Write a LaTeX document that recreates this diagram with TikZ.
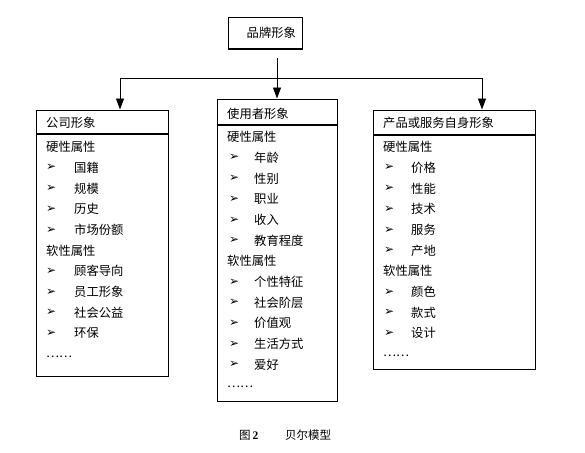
\documentclass[tikz,border=0pt]{standalone}
\usepackage{fontspec}
\setmainfont{Noto Sans CJK SC}
\newfontfamily\symf{DejaVu Sans}
\newfontfamily\serf{Liberation Serif}
\usetikzlibrary{arrows.meta}
\begin{document}
\begin{tikzpicture}[x=1pt,y=-1pt,
  box/.style={draw, line width=1pt, inner sep=0pt},
  txt/.style={anchor=west, inner sep=0pt, font=\fontsize{12.3}{13}\selectfont},
  bul/.style={anchor=west, inner sep=0pt, font=\symf\fontsize{12}{13}\selectfont},
  captxt/.style={anchor=west, inner sep=0pt, font=\fontsize{11.5}{12}\selectfont},
  conn/.style={line width=0.9pt},
  arr/.style={conn, -{Triangle[width=8pt,length=11pt]}},
  sepline/.style={line width=1.8pt}]
\useasboundingbox (0,0) rectangle (585,452);

% top box
\node[box, minimum width=74pt, minimum height=31pt] (brand) at (265,33.5) {};
\node[txt] (brandt) at (246.5,33) {品牌形象};

% three boxes
\node[box, minimum width=132pt, minimum height=266pt] (company) at (102,243) {};
\node[box, minimum width=120pt, minimum height=302pt] (user) at (277,250) {};
\node[box, minimum width=162pt, minimum height=259pt] (product) at (454,239.5) {};

% header separators
\draw[sepline] (company.west |- 0,134) -- (company.east |- 0,134);
\draw[sepline] (user.west |- 0,125) -- (user.east |- 0,125);
\draw[sepline] (product.west |- 0,135) -- (product.east |- 0,135);

% connectors
\coordinate (start) at (277,58);
\coordinate (hubL) at (120,78);
\coordinate (hubR) at (482,78);
\draw[conn] (hubL) -- (hubR);
\draw[arr] (start) -- (user.north);
\draw[arr] (hubL) -- (hubL |- company.north);
\draw[arr] (hubR) -- (hubR |- product.north);

% company box
\node[txt] (c-head) at (46,123) {公司形象};
\node[txt] (c-h0) at (46,147) {硬性属性};
\node[txt] (c-h5) at (46,147+20.7*5) {软性属性};
\foreach \t [count=\i from 1] in {国籍,规模,历史,市场份额}{
  \node[bul] (c-b\i) at (46,147+20.7*\i) {➢};
  \node[txt] (c-i\i) at (74,147+20.7*\i) {\t};}
\foreach \t [count=\i from 6] in {顾客导向,员工形象,社会公益,环保}{
  \node[bul] (c-b\i) at (46,147+20.7*\i) {➢};
  \node[txt] (c-i\i) at (74,147+20.7*\i) {\t};}
\node[txt] (c-dots) at (46,357) {……};

% user box
\node[txt] (u-head) at (227,114) {使用者形象};
\node[txt] (u-h0) at (227,137) {硬性属性};
\node[txt] (u-h6) at (227,137+20.7*6) {软性属性};
\foreach \t [count=\i from 1] in {年龄,性别,职业,收入,教育程度}{
  \node[bul] (u-b\i) at (229,137+20.7*\i) {➢};
  \node[txt] (u-i\i) at (254,137+20.7*\i) {\t};}
\foreach \t [count=\i from 7] in {个性特征,社会阶层,价值观,生活方式,爱好}{
  \node[bul] (u-b\i) at (229,137+20.7*\i) {➢};
  \node[txt] (u-i\i) at (254,137+20.7*\i) {\t};}
\node[txt] (u-dots) at (227,387) {……};

% product box
\node[txt] (p-head) at (383,123) {产品或服务自身形象};
\node[txt] (p-h0) at (383,147) {硬性属性};
\node[txt] (p-h6) at (383,147+20.7*6) {软性属性};
\foreach \t [count=\i from 1] in {价格,性能,技术,服务,产地}{
  \node[bul] (p-b\i) at (384,147+20.7*\i) {➢};
  \node[txt] (p-i\i) at (411,147+20.7*\i) {\t};}
\foreach \t [count=\i from 7] in {颜色,款式,设计}{
  \node[bul] (p-b\i) at (384,147+20.7*\i) {➢};
  \node[txt] (p-i\i) at (411,147+20.7*\i) {\t};}
\node[txt] (p-dots) at (383,356) {……};

% caption
\node[captxt] (capa) at (239,435) {图\,{\serf\bfseries 2}};
\node[captxt] (capb) at (285,435) {贝尔模型};
\end{tikzpicture}
\end{document}
